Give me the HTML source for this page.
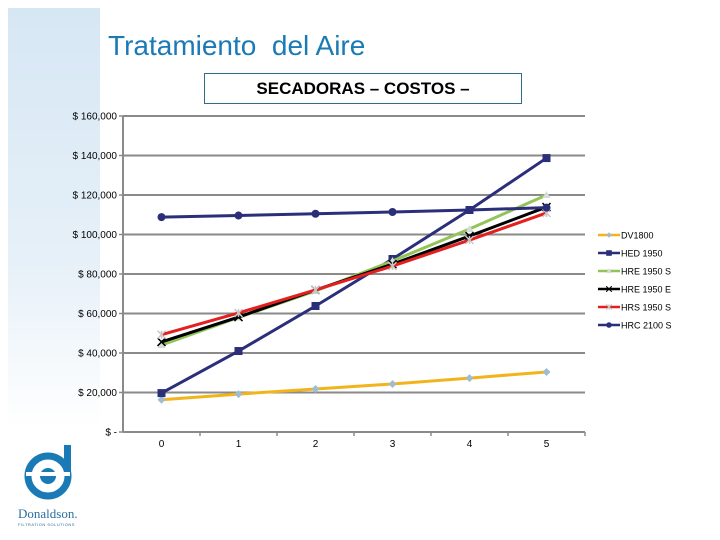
<!DOCTYPE html>
<html><head><meta charset="utf-8"><style>
body{margin:0;width:720px;height:540px;background:#fff;overflow:hidden;font-family:"Liberation Sans",sans-serif;position:relative}
</style></head><body>
<div style="position:absolute;left:8px;top:8px;width:92px;height:420px;background:linear-gradient(#d6e7f4,#e6f0f8 60%,#fff);"></div>
<div style="position:absolute;left:108px;top:30px;font-size:28px;color:#1a7ab5;white-space:pre">Tratamiento  del Aire</div>
<div style="position:absolute;left:204px;top:73px;width:316px;height:29px;border:1px solid #2e6e8a;background:#fff;font-size:17px;font-weight:bold;text-align:center;line-height:29px">SECADORAS – COSTOS –</div>
<svg id="chart" width="720" height="540" style="position:absolute;left:0;top:0"></svg>
<div style="position:absolute;left:18px;top:443px;width:72px;height:80px">
<svg width="72" height="62" viewBox="0 0 72 62"><circle cx="30" cy="33" r="20" fill="none" stroke="#1a7ab5" stroke-width="7"/><circle cx="30" cy="33" r="8" fill="#1a7ab5"/><rect x="46" y="2" width="7" height="30" fill="#1a7ab5"/><rect x="8" y="29" width="44" height="4" fill="#fff"/></svg>
<div style="font-family:'Liberation Serif',serif;font-size:13px;color:#2a6f9e;margin-top:-4px">Donaldson.</div>
<div style="font-size:4px;color:#2a6f9e;letter-spacing:0.5px">FILTRATION SOLUTIONS</div>
</div>
<script>
const categories=["0","1","2","3","4","5"];
const yTicks=[0,20000,40000,60000,80000,100000,120000,140000,160000];
const yTickLabels=["$ -","$ 20,000","$ 40,000","$ 60,000","$ 80,000","$ 100,000","$ 120,000","$ 140,000","$ 160,000"];
const seriesNames=["DV1800","HED 1950","HRE 1950 S","HRE 1950 E","HRS 1950 S","HRC 2100 S"];
const dv1800=[16300,19200,21800,24300,27300,30400];
const hed1950=[19700,41000,63800,87600,112400,138700];
const hre1950s=[44000,58000,71400,86600,102800,120000];
const hre1950e=[45600,58200,71900,85000,99200,113900];
const hrs1950s=[49300,60300,71900,84000,97200,110900];
const hrc2100s=[108800,109600,110500,111400,112400,113600];
const seriesData=[dv1800,hed1950,hre1950s,hre1950e,hrs1950s,hrc2100s];
const colors=["#f2b41c","#2b2f7a","#92c45a","#000000","#e41f1f","#2b2f7a"];
const markers=["diamond","square","tri","x","star","circle"];
const mcolors=["#9fbdd0","#2b2f7a","#d6dcd6","#000","#c8c8c8","#2b2f7a"];
const L=123,R=585,T=116,B=432,yMax=160000;
const svg=document.getElementById('chart');const NS="http://www.w3.org/2000/svg";
const y=v=>B-(v/yMax)*(B-T);
const x=i=>L+(R-L)/categories.length*(i+0.5);
function mk(t,a){const e=document.createElementNS(NS,t);for(const k in a)e.setAttribute(k,a[k]);svg.appendChild(e);return e;}
yTicks.forEach((v,i)=>{
 if(v>0){const g=mk('line',{x1:L,x2:R,y1:y(v),y2:y(v),stroke:'#8a8a8a','stroke-width':2});
 
 }
 const tk=mk('line',{x1:L-4,x2:L,y1:y(v),y2:y(v),stroke:'#8a8a8a','stroke-width':1.5});
 
 
 const t=mk('text',{x:L-6,y:y(v)+3.5,'font-size':10,'text-anchor':'end','font-family':'Liberation Sans,sans-serif'});
 t.textContent=yTickLabels[i];
 
 
});
const ax=mk('line',{x1:L,x2:L,y1:T,y2:B,stroke:'#8a8a8a','stroke-width':2});


const xa=mk('line',{x1:L,x2:R,y1:B,y2:B,stroke:'#8a8a8a','stroke-width':2});


categories.forEach((c,i)=>{
 const xt=L+(R-L)/categories.length*(i+1);
 const tk=mk('line',{x1:xt,x2:xt,y1:B,y2:B+4,stroke:'#8a8a8a','stroke-width':1.5});
 
 
 const t=mk('text',{x:x(i),y:B+15,'font-size':10,'text-anchor':'middle','font-family':'Liberation Sans,sans-serif'});
 t.textContent=c;
 
 
});
function marker(type,cx,cy,col){
 let e;
 if(type==='diamond')e=mk('polygon',{points:`${cx},${cy-4} ${cx+4},${cy} ${cx},${cy+4} ${cx-4},${cy}`,fill:col});
 else if(type==='square')e=mk('rect',{x:cx-4,y:cy-4,width:8,height:8,fill:col});
 else if(type==='tri')e=mk('polygon',{points:`${cx},${cy-4} ${cx+4},${cy+3} ${cx-4},${cy+3}`,fill:col});
 else if(type==='circle')e=mk('circle',{cx:cx,cy:cy,r:4,fill:col});
 else {e=mk('path',{d:`M${cx-4} ${cy-4}L${cx+4} ${cy+4}M${cx+4} ${cy-4}L${cx-4} ${cy+4}`+(type==='star'?`M${cx} ${cy-4}L${cx} ${cy+4}`:''),stroke:col,'stroke-width':1.5,fill:'none'});}
 return e;
}
seriesData.forEach((d,s)=>{
 const p=mk('polyline',{points:d.map((v,i)=>x(i)+','+y(v)).join(' '),fill:'none',stroke:colors[s],'stroke-width':3});
 
 
 d.forEach((v,i)=>{const m=marker(markers[s],x(i),y(v),mcolors[s]);
 
 });
 const ly=235+s*18;
 const ll=mk('line',{x1:598,x2:620,y1:ly,y2:ly,stroke:colors[s],'stroke-width':2.5});
 
 
 const lm=marker(markers[s],609,ly,mcolors[s]);lm.setAttribute('transform',`translate(${609*0.3},${ly*0.3}) scale(0.7)`);
 
 
 const lt=mk('text',{x:621,y:ly+3.5,'font-size':9,'font-family':'Liberation Sans,sans-serif'});
 lt.textContent=seriesNames[s];
 
 
});
</script>
</body></html>
